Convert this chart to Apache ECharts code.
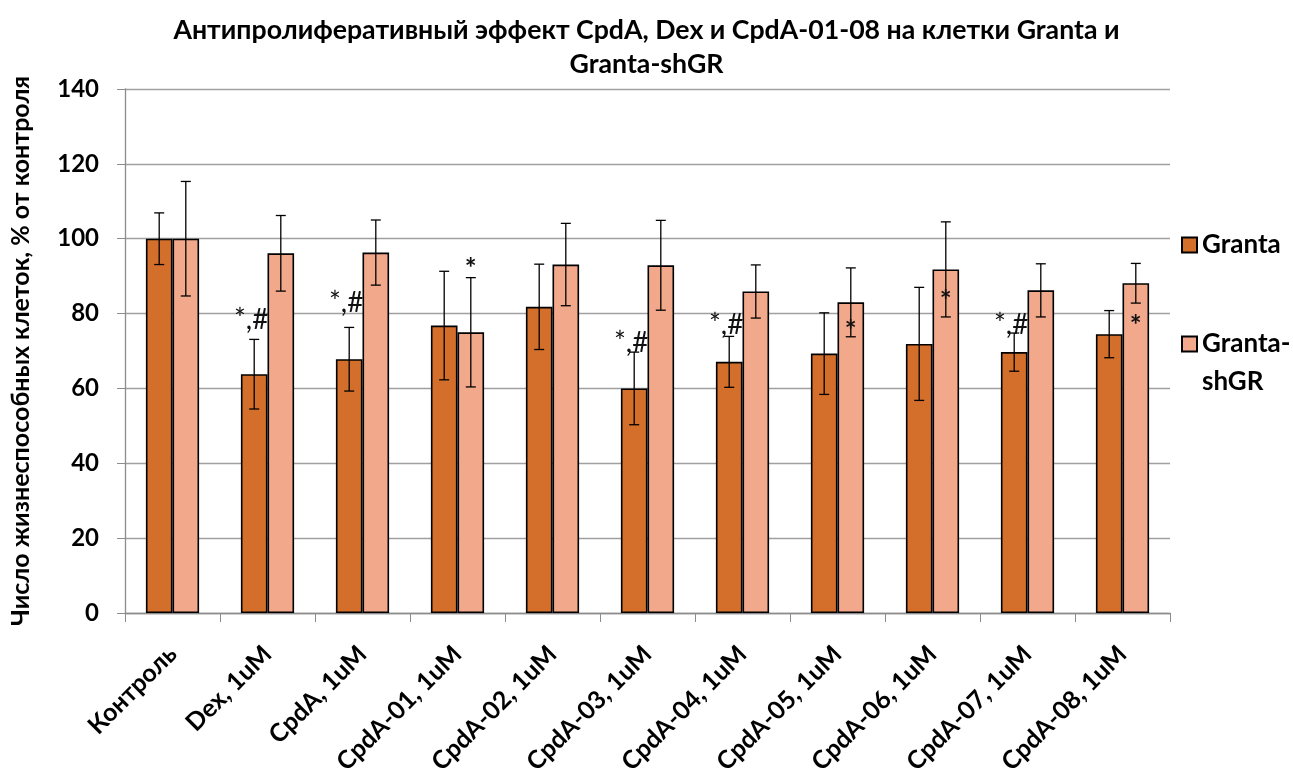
<!DOCTYPE html>
<html>
<head>
<meta charset="utf-8">
<script src="https://cdn.jsdelivr.net/npm/echarts@6/dist/echarts.min.js"></script>
<style>
  html, body { margin: 0; padding: 0; background: #fff; }
  #chart { width: 1293px; height: 771px; }
</style>
</head>
<body>
<div id="chart"></div>
<script>
// Treatment groups along the x axis
const categories = ['Контроль', 'Dex, 1uM', 'CpdA, 1uM', 'CpdA-01, 1uM', 'CpdA-02, 1uM',
  'CpdA-03, 1uM', 'CpdA-04, 1uM', 'CpdA-05, 1uM', 'CpdA-06, 1uM', 'CpdA-07, 1uM', 'CpdA-08, 1uM'];

// Mean viable cells, % of control
const grantaValues = [100, 63.8, 67.8, 76.8, 81.8, 60.0, 67.1, 69.3, 71.9, 69.7, 74.5];
const shgrValues   = [100, 96.1, 96.3, 75.0, 93.1, 92.9, 85.9, 83.0, 91.8, 86.2, 88.1];

// Error bar half-widths (SD)
const grantaErrors = [6.9, 9.3, 8.5, 14.5, 11.4, 9.7, 6.8, 10.9, 15.1, 5.1, 6.3];
const shgrErrors   = [15.3, 10.1, 8.7, 14.6, 11.0, 12.0, 7.1, 9.2, 12.7, 7.1, 5.3];

// Significance marks: category index, series (0 = Granta, 1 = Granta-shGR), height, text
const markCats   = [1, 2, 3, 5, 6, 7, 8, 9, 10];
const markSeries = [0, 0, 1, 0, 0, 1, 1, 0, 1];
const markLevels = [78.3, 82.8, 91.9, 72.1, 76.9, 75.4, 83.4, 76.9, 76.7];
const markTexts  = ['*,#', '*,#', '*', '*,#', '*,#', '*', '*', '*,#', '*'];

const yTicks = [0, 20, 40, 60, 80, 100, 120, 140];

const seriesNames = ['Granta', 'Granta-shGR'];
const colors = ['#D36F2B', '#F1A88B'];
const BAR_FRAC = 0.28;
const FONT = 'Lato, "Open Sans", sans-serif';

const chart = echarts.init(document.getElementById('chart'));

function errorRenderer(side) {
  return function (params, api) {
    const cat = api.value(0), v = api.value(1), e = api.value(2);
    const band = api.size([1, 0])[0];
    const off = side * band * BAR_FRAC / 2;
    const top = api.coord([cat, v + e]);
    const bot = api.coord([cat, v - e]);
    const x = top[0] + off;
    const cap = 5;
    const style = { stroke: '#000', lineWidth: 1.3 };
    return {
      type: 'group',
      children: [
        { type: 'line', shape: { x1: x, y1: top[1], x2: x, y2: bot[1] }, style },
        { type: 'line', shape: { x1: x - cap, y1: top[1], x2: x + cap, y2: top[1] }, style },
        { type: 'line', shape: { x1: x - cap, y1: bot[1], x2: x + cap, y2: bot[1] }, style }
      ]
    };
  };
}

const markData = markCats.map((c, i) => [c, markLevels[i], markSeries[i], markTexts[i]]);

const option = {
  backgroundColor: '#fff',
  animation: false,
  textStyle: { fontFamily: FONT },
  title: {
    text: 'Антипролиферативный эффект CpdA, Dex и CpdA-01-08 на клетки Granta и\nGranta-shGR',
    left: 'center',
    top: 8,
    textStyle: { fontSize: 26.7, fontWeight: 'bold', color: '#000', lineHeight: 34, fontFamily: FONT }
  },
  legend: {
    orient: 'vertical',
    left: 1176,
    top: 221,
    padding: 5,
    itemWidth: 15,
    itemHeight: 15,
    itemGap: 23,
    icon: 'rect',
    data: seriesNames,
    // second entry wraps onto two lines, with its swatch beside the first line
    formatter: name => name === 'Granta-shGR' ? ' \nGranta-\nshGR' : name,
    textStyle: { fontSize: 26, fontWeight: 'bold', color: '#000', lineHeight: 38, fontFamily: FONT }
  },
  grid: { left: 125, right: 123, top: 89, bottom: 158, containLabel: false, outerBoundsMode: 'none' },
  xAxis: {
    type: 'category',
    data: categories,
    axisLine: { lineStyle: { color: '#8c8c8c', width: 1.3 } },
    axisTick: { show: true, length: 9, lineStyle: { color: '#8c8c8c' } },
    axisLabel: { rotate: 45, interval: 0, margin: 37, fontSize: 25, fontWeight: 'bold',
      color: '#000', fontFamily: FONT }
  },
  yAxis: {
    type: 'value',
    min: 0, max: 140, interval: 20,
    name: 'Число жизнеспособных клеток, % от контроля',
    nameLocation: 'middle',
    nameGap: 92,
    nameTextStyle: { fontSize: 25, fontWeight: 'bold', color: '#000', fontFamily: FONT },
    axisLine: { show: true, lineStyle: { color: '#8c8c8c', width: 1.3 } },
    axisTick: { show: true, length: 8, lineStyle: { color: '#8c8c8c' } },
    axisLabel: { fontSize: 24, fontWeight: 'bold', color: '#000', margin: 26,
      formatter: v => yTicks.includes(v) ? String(v) : '' },
    splitLine: { lineStyle: { color: '#a0a0a0', width: 1.3 } }
  },
  series: [
    {
      name: seriesNames[0], type: 'bar', data: grantaValues,
      barWidth: (BAR_FRAC * 100) + '%', barGap: '0%',
      itemStyle: { color: colors[0], borderColor: '#000', borderWidth: 1.6 }
    },
    {
      name: seriesNames[1], type: 'bar', data: shgrValues,
      barWidth: (BAR_FRAC * 100) + '%', barGap: '0%',
      itemStyle: { color: colors[1], borderColor: '#000', borderWidth: 1.6 }
    },
    {
      type: 'custom', z: 5, silent: true,
      data: grantaValues.map((v, i) => [i, v, grantaErrors[i]]),
      renderItem: errorRenderer(-1)
    },
    {
      type: 'custom', z: 5, silent: true,
      data: shgrValues.map((v, i) => [i, v, shgrErrors[i]]),
      renderItem: errorRenderer(1)
    },
    {
      type: 'custom', z: 6, silent: true,
      data: markData,
      renderItem: function (params, api) {
        const cat = api.value(0), lvl = api.value(1), s = api.value(2);
        const text = markData[params.dataIndex][3];
        const band = api.size([1, 0])[0];
        const off = (s === 0 ? -1 : 1) * band * BAR_FRAC / 2;
        const p = api.coord([cat, lvl]);
        return {
          type: 'text',
          style: {
            x: p[0] + off - (text.length > 1 ? 3 : 0), y: p[1],
            text: text, align: 'center', verticalAlign: 'middle',
            fontSize: 28, fontWeight: text.length > 1 ? 'normal' : 'bold',
            fontFamily: FONT, fill: '#111'
          }
        };
      }
    }
  ]
};

chart.setOption(option);
</script>
</body>
</html>
